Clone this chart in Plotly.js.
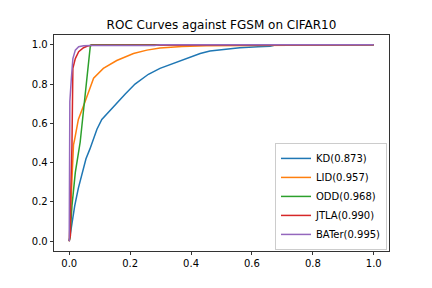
<!DOCTYPE html>
<html>
<head>
<meta charset="utf-8">
<script src="https://cdn.plot.ly/plotly-3.0.1.min.js"></script>
<style>html,body{margin:0;padding:0;background:#fff;}#chart{width:432px;height:288px;}</style>
</head>
<body>
<div id="chart"></div>
<script>
const seriesNames = ["KD(0.873)", "LID(0.957)", "ODD(0.968)", "JTLA(0.990)", "BATer(0.995)"];
const seriesColors = ["#1f77b4", "#ff7f0e", "#2ca02c", "#d62728", "#9467bd"];

const kdFpr = [0, 0.003, 0.010, 0.018, 0.030, 0.042, 0.055, 0.068, 0.080, 0.091, 0.107, 0.130, 0.162, 0.184, 0.216, 0.260, 0.298, 0.348, 0.400, 0.430, 0.462, 0.510, 0.560, 0.620, 0.660, 0.680, 1.0];
const kdTpr = [0, 0.030, 0.100, 0.180, 0.270, 0.350, 0.420, 0.470, 0.520, 0.570, 0.620, 0.660, 0.710, 0.750, 0.800, 0.850, 0.880, 0.910, 0.942, 0.956, 0.968, 0.977, 0.985, 0.990, 0.993, 1.0, 1.0];

const lidFpr = [0, 0.003, 0.009, 0.014, 0.018, 0.030, 0.052, 0.080, 0.112, 0.156, 0.211, 0.255, 0.298, 0.370, 0.450, 0.600, 0.900, 1.0];
const lidTpr = [0, 0.100, 0.265, 0.490, 0.520, 0.620, 0.710, 0.830, 0.880, 0.920, 0.956, 0.973, 0.984, 0.992, 0.995, 0.996, 0.998, 1.0];

const oddFpr = [0, 0.003, 0.009, 0.020, 0.036, 0.049, 0.060, 0.069, 0.072, 1.0];
const oddTpr = [0, 0.030, 0.180, 0.350, 0.505, 0.710, 0.880, 0.990, 1.0, 1.0];

const jtlaFpr = [0, 0.004, 0.005, 0.009, 0.012, 0.020, 0.031, 0.047, 0.060, 0.074, 1.0];
const jtlaTpr = [0, 0.030, 0.250, 0.490, 0.880, 0.930, 0.965, 0.985, 0.994, 0.998, 1.0];

const baterFpr = [0, 0, 0.002, 0.001, 0.002, 0.007, 0.012, 0.020, 0.031, 0.047, 0.070, 0.280, 0.300, 1.0];
const baterTpr = [0, 0.210, 0.215, 0.490, 0.710, 0.830, 0.930, 0.973, 0.990, 0.995, 0.996, 0.997, 1.0, 1.0];

const xTicks = [0, 0.2, 0.4, 0.6, 0.8, 1.0];
const yTicks = [0, 0.2, 0.4, 0.6, 0.8, 1.0];
const xTickLabels = ["0.0", "0.2", "0.4", "0.6", "0.8", "1.0"];
const yTickLabels = ["0.0", "0.2", "0.4", "0.6", "0.8", "1.0"];

const xs = [kdFpr, lidFpr, oddFpr, jtlaFpr, baterFpr];
const ys = [kdTpr, lidTpr, oddTpr, jtlaTpr, baterTpr];

const traces = seriesNames.map((n, i) => ({
  x: xs[i], y: ys[i], name: n, type: "scatter", mode: "lines",
  line: {color: seriesColors[i], width: 1.5}
}));

const axisCommon = {
  showline: true, linecolor: "#000", linewidth: 0.8, mirror: true,
  ticks: "outside", ticklen: 3.5, tickwidth: 0.8, tickcolor: "#000",
  showgrid: false, zeroline: false,
  tickfont: {family: "DejaVu Sans", size: 10, color: "#000"}
};

const layout = {
  width: 432, height: 288,
  margin: {l: 54, r: 43, t: 35, b: 37, pad: 0},
  paper_bgcolor: "#fff", plot_bgcolor: "#fff",
  title: {text: "ROC Curves against FGSM on CIFAR10", font: {family: "DejaVu Sans", size: 12, color: "#000"}, x: 0.5, xref: "paper", y: 0.915, yref: "container", yanchor: "middle"},
  xaxis: Object.assign({}, axisCommon, {range: [-0.05, 1.05], tickvals: xTicks, ticktext: xTickLabels}),
  yaxis: Object.assign({}, axisCommon, {range: [-0.05, 1.05], tickvals: yTicks, ticktext: yTickLabels}),
  showlegend: true,
  legend: {x: 0.994, y: 0.005, xanchor: "right", yanchor: "bottom", bgcolor: "rgba(255,255,255,0.8)", bordercolor: "#cccccc", borderwidth: 1,
    font: {family: "DejaVu Sans", size: 10, color: "#000"}, tracegroupgap: 0, itemwidth: 30}
};

Plotly.newPlot("chart", traces, layout, {staticPlot: true, displayModeBar: false});
</script>
</body>
</html>
